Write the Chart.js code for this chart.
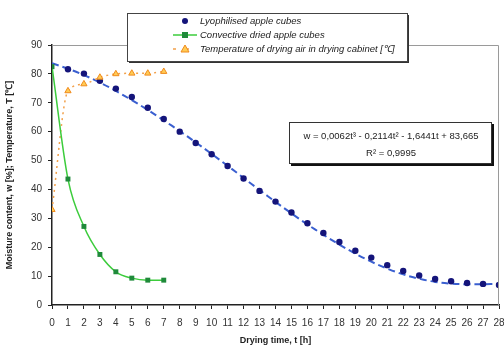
<!DOCTYPE html>
<html>
<head>
<meta charset="utf-8">
<script src="https://cdn.jsdelivr.net/npm/chart.js@4.4.1/dist/chart.umd.min.js"></script>
<style>
  html, body { margin: 0; padding: 0; background: #fff; }
  #wrap { width: 504px; height: 356px; position: relative; }
</style>
</head>
<body>
<div id="wrap"><canvas id="chart" width="504" height="356"></canvas></div>
<script>
  // Dane
  const lyoTime = [1, 2, 3, 4, 5, 6, 7, 8, 9, 10, 11, 12, 13, 14, 15, 16, 17, 18, 19, 20, 21, 22, 23, 24, 25, 26, 27, 28];
  const lyoMoisture = [81.6, 80.1, 77.6, 74.9, 72.0, 68.3, 64.4, 60.0, 56.1, 52.2, 48.1, 43.8, 39.5, 35.8, 32.0, 28.3, 24.9, 21.8, 18.8, 16.4, 13.8, 11.8, 10.2, 9.0, 8.2, 7.6, 7.3, 6.9];

  const trendTime = [0, 1, 2, 3, 4, 5, 6, 7, 8, 9, 10, 11, 12, 13, 14, 15, 16, 17, 18, 19, 20, 21, 22, 23, 24, 25, 26, 27, 28];
  const trendValues = [83.7, 81.8, 79.6, 77.0, 74.1, 70.9, 67.5, 63.9, 60.2, 56.3, 52.3, 48.2, 44.0, 39.8, 35.7, 31.7, 27.9, 24.3, 20.9, 17.8, 15.0, 12.6, 10.6, 9.1, 8.0, 7.4, 7.2, 7.2, 7.3];

  const convTime = [0, 1, 2, 3, 4, 5, 6, 7];
  const convMoisture = [82.5, 43.6, 27.2, 17.5, 11.5, 9.3, 8.6, 8.6];

  const tempTime = [0, 1, 2, 3, 4, 5, 6, 7];
  const tempAir = [33.0, 74.1, 76.5, 78.8, 80.0, 80.2, 80.2, 80.8];

  const xTicks = [0, 28, 1];
  const yTicks = [0, 90, 10];

  const legendLabels = [
    'Lyophilised apple cubes',
    'Convective dried apple cubes',
    'Temperature of drying air in drying cabinet [\u2103]'
  ];
  const equationLines = [
    'w = 0,0062t\u00B3 - 0,2114t\u00B2 - 1,6441t + 83,665',
    'R\u00B2 = 0,9995'
  ];

  function pts(xs, ys) { return xs.map((x, i) => ({ x: x, y: ys[i] })); }

  const FONT = '"Liberation Sans", Arial, sans-serif';

  // Ramka, legenda i pole z rownaniem
  const overlays = {
    id: 'overlays',
    afterDraw(chart) {
      const ctx = chart.ctx;
      const a = chart.chartArea;
      ctx.save();

      ctx.strokeStyle = '#9a9a9a';
      ctx.lineWidth = 1;
      ctx.beginPath();
      ctx.moveTo(a.left, a.top + 0.5);
      ctx.lineTo(a.right - 0.5, a.top + 0.5);
      ctx.lineTo(a.right - 0.5, a.bottom);
      ctx.stroke();

      // legenda
      const lx = 127, ly = 13, lw = 280, lh = 48;
      ctx.fillStyle = '#fff';
      ctx.fillRect(lx, ly, lw, lh);
      ctx.fillStyle = '#333';
      ctx.fillRect(lx + lw, ly + 2, 2, lh);
      ctx.fillRect(lx + 2, ly + lh, lw, 2);
      ctx.strokeStyle = '#444';
      ctx.strokeRect(lx + 0.5, ly + 0.5, lw, lh);

      const rows = [21, 35, 49];
      const mx = 185;
      // wiersz 1: kropka
      ctx.fillStyle = '#14147a';
      ctx.beginPath(); ctx.arc(mx, rows[0], 3, 0, Math.PI * 2); ctx.fill();
      // wiersz 2: linia + kwadrat
      ctx.strokeStyle = '#3ccc3c'; ctx.lineWidth = 1.5;
      ctx.beginPath(); ctx.moveTo(173, rows[1]); ctx.lineTo(197, rows[1]); ctx.stroke();
      ctx.fillStyle = '#1f8a3a';
      ctx.fillRect(mx - 3, rows[1] - 3, 6, 6);
      // wiersz 3: kreski + trojkat
      ctx.strokeStyle = '#f2a04a'; ctx.lineWidth = 1.5;
      ctx.setLineDash([3, 10]);
      ctx.beginPath(); ctx.moveTo(173, rows[2]); ctx.lineTo(199, rows[2]); ctx.stroke();
      ctx.setLineDash([]);
      ctx.fillStyle = '#ffcc55'; ctx.strokeStyle = '#f08a1c'; ctx.lineWidth = 1;
      ctx.beginPath();
      ctx.moveTo(mx, rows[2] - 4); ctx.lineTo(mx + 4, rows[2] + 3); ctx.lineTo(mx - 4, rows[2] + 3); ctx.closePath();
      ctx.fill(); ctx.stroke();

      ctx.fillStyle = '#222';
      ctx.font = 'italic 9.5px ' + FONT;
      ctx.textBaseline = 'middle';
      ctx.textAlign = 'left';
      legendLabels.forEach((t, i) => ctx.fillText(t, 200, rows[i]));

      // pole z rownaniem
      const ex = 289, ey = 122, ew = 202, eh = 41;
      ctx.fillStyle = '#fff';
      ctx.fillRect(ex, ey, ew, eh);
      ctx.fillStyle = '#111';
      ctx.fillRect(ex + ew, ey + 2, 3, eh + 1);
      ctx.fillRect(ex + 2, ey + eh, ew + 1, 3);
      ctx.strokeStyle = '#333'; ctx.lineWidth = 1;
      ctx.strokeRect(ex + 0.5, ey + 0.5, ew, eh);
      ctx.fillStyle = '#222';
      ctx.font = '9.5px ' + FONT;
      ctx.textAlign = 'center';
      ctx.fillText(equationLines[0], ex + ew / 2 + 1, 136);
      ctx.fillText(equationLines[1], ex + ew / 2 + 1, 153);

      ctx.restore();
    }
  };

  new Chart(document.getElementById('chart'), {
    type: 'scatter',
    data: {
      datasets: [
        {
          label: 'trend',
          data: pts(trendTime, trendValues),
          showLine: true,
          borderColor: '#3a5fd0',
          borderWidth: 2,
          borderDash: [7, 4],
          pointRadius: 0,
          tension: 0.4,
          order: 4
        },
        {
          label: legendLabels[0],
          data: pts(lyoTime, lyoMoisture),
          showLine: false,
          pointStyle: 'circle',
          pointRadius: 3.2,
          backgroundColor: '#14147a',
          borderColor: '#14147a',
          borderWidth: 0,
          order: 3
        },
        {
          label: legendLabels[2],
          data: pts(tempTime, tempAir),
          showLine: true,
          borderColor: '#f2a04a',
          borderWidth: 1.5,
          borderDash: [2, 4],
          cubicInterpolationMode: 'monotone',
          pointStyle: 'triangle',
          pointRadius: 3.6,
          pointBackgroundColor: '#ffcc55',
          pointBorderColor: '#f08a1c',
          pointBorderWidth: 1,
          order: 2
        },
        {
          label: legendLabels[1],
          data: pts(convTime, convMoisture),
          showLine: true,
          borderColor: '#3ccc3c',
          borderWidth: 1.5,
          cubicInterpolationMode: 'monotone',
          pointStyle: 'rect',
          pointRadius: 3.5,
          pointBackgroundColor: '#1f8a3a',
          pointBorderColor: '#1f8a3a',
          pointBorderWidth: 0,
          order: 1
        }
      ]
    },
    options: {
      responsive: false,
      animation: false,
      layout: { padding: { top: 45, right: 5, left: 0, bottom: 6 } },
      plugins: { legend: { display: false }, tooltip: { enabled: false } },
      scales: {
        x: {
          type: 'linear',
          min: xTicks[0], max: xTicks[1],
          ticks: { stepSize: xTicks[2], color: '#333', font: { family: FONT, size: 10 }, padding: 8, maxRotation: 0, autoSkip: false },
          grid: { drawOnChartArea: false, color: '#222', tickLength: 4 },
          border: { color: '#222', width: 1.5 },
          title: { display: true, text: 'Drying time, t [h]', color: '#222', font: { family: FONT, size: 9, weight: 'bold' }, padding: { top: 6 } },
          afterFit(s) { s.height = 45; s.paddingRight = 0; s.paddingLeft = 0; }
        },
        y: {
          min: yTicks[0], max: yTicks[1],
          ticks: { stepSize: yTicks[2], color: '#333', font: { family: FONT, size: 10 }, padding: 6 },
          grid: { drawOnChartArea: false, color: '#222', tickLength: 4 },
          border: { color: '#222', width: 1.5 },
          title: { display: true, text: 'Moisture content, w [%]; Temperature, T [\u2103]', color: '#222', font: { family: FONT, size: 9, weight: 'bold' }, padding: { bottom: 4 } },
          afterFit(s) { s.width = 52; }
        }
      }
    },
    plugins: [overlays]
  });
</script>
</body>
</html>
